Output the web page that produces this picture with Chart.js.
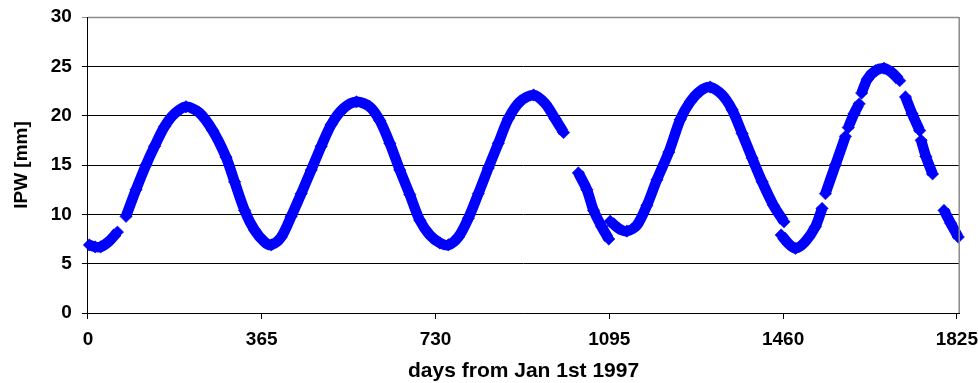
<!DOCTYPE html>
<html><head><meta charset="utf-8">
<script src="https://cdn.jsdelivr.net/npm/chart.js@4/dist/chart.umd.min.js"></script>
<style>html,body{margin:0;padding:0;background:#fff;overflow:hidden}#wrap{width:978px;height:383px}</style>
</head><body><div id="wrap"><canvas id="c" width="978" height="383"></canvas></div>
<script>
// days from Jan 1st 1997 (null IPW = data gap)
const days = [3,15,27,45,62,71,
  80,101,122,140,161,182,206,234,262,290,308,329,350,371,385,406,427,448,469,490,511,536,564,592,613,634,655,676,697,718,739,757,778,799,820,841,862,883,907,936,960,981,999,1015,
  1030,1048,1062,1079,1094,1095,
  1097,1114,1132,1153,1174,1195,1220,1244,1265,1286,1307,1332,1353,1374,1395,1416,1440,1462,1463,
  1456,1472,1486,1506,1528,1542,1546,
  1549,1570,1591,1593,
  1597,1609,1620,1622,
  1625,1637,1654,1672,1689,1705,1711,
  1717,1731,1747,1748,
  1750,1760,1774,1786,
  1798,1812,1828];
const ipw = [6.9,6.7,6.7,7.3,8.2,null,
  9.8,12.5,15.0,16.9,18.9,20.2,20.9,20.3,18.5,15.8,13.3,10.4,8.4,7.2,6.9,7.7,9.8,12.1,14.5,16.9,19.1,20.7,21.4,20.9,19.5,17.2,14.5,12.0,9.4,7.9,7.1,6.9,7.7,9.6,12.1,14.7,17.2,19.7,21.4,22.1,21.25,19.7,18.3,null,
  14.2,12.5,10.4,8.75,7.5,null,
  9.3,8.6,8.3,8.9,10.9,13.5,16.3,19.6,21.4,22.5,22.9,22.1,20.6,18.2,15.7,13.3,10.9,9.25,null,
  7.9,7.0,6.55,7.2,8.75,10.6,null,
  12.1,15.0,17.9,null,
  18.8,20.2,21.2,null,
  22.3,23.7,24.55,24.8,24.35,23.55,null,
  21.9,20.2,18.5,null,
  17.5,15.85,14.1,null,
  10.4,9.1,7.7];
const xTicks = [0,365,730,1095,1460,1825];
const yTicks = [0,5,10,15,20,25,30];
const xTitle = 'days from Jan 1st 1997';
const yTitle = 'IPW [mm]';

const pts = days.map((d,i)=>({x:d, y: ipw[i]===null ? NaN : ipw[i]}));
const FONT = "'Liberation Sans', Arial, sans-serif";

const border = {
  id:'border',
  afterDraw(chart){
    const a = chart.chartArea, c = chart.ctx;
    c.save();
    c.strokeStyle = '#8c8c8c'; c.lineWidth = 1.5;
    c.beginPath();
    c.moveTo(a.left, a.top+0.5); c.lineTo(a.right, a.top+0.5);
    c.moveTo(a.right, a.top); c.lineTo(a.right, a.bottom);
    c.stroke();
    c.restore();
  }
};

new Chart(document.getElementById('c'), {
  type:'scatter',
  data:{datasets:[{
    data: pts,
    showLine:true,
    spanGaps:false,
    borderColor:'#0000ff',
    borderWidth:10.5,
    tension:0.3,
    pointStyle:'rectRot',
    pointRadius:6.2,
    pointBackgroundColor:'#0000ff',
    pointBorderColor:'#0000e0',
    pointBorderWidth:0.5,
    clip:8
  }]},
  plugins:[border],
  options:{
    responsive:false, animation:false,
    devicePixelRatio:1,
    layout:{padding:{left:10,right:1,top:1,bottom:0}},
    plugins:{legend:{display:false}, tooltip:{enabled:false}},
    scales:{
      x:{type:'linear', min:0, max:1830,
        afterBuildTicks(ax){ ax.ticks = xTicks.map(v=>({value:v})); },
        ticks:{autoSkip:false, maxRotation:0, color:'#000', padding:0,
          callback:(v)=>String(v),
          font:{family:FONT, size:19, weight:'bold', lineHeight:'41px'}},
        grid:{drawOnChartArea:false, drawTicks:true, tickLength:6, color:'#000'},
        border:{display:true, color:'#000', width:1},
        title:{display:true, text:xTitle, color:'#000', padding:{top:0,bottom:0},
          font:{family:FONT, size:21, weight:'bold', lineHeight:'23px'}}
      },
      y:{type:'linear', min:0, max:30,
        afterBuildTicks(ax){ ax.ticks = yTicks.map(v=>({value:v})); },
        ticks:{color:'#000', padding:10, callback:(v)=>String(v),
          font:{family:FONT, size:19, weight:'bold', lineHeight:'14px'}},
        grid:{color:(ctx)=> ctx.tick && ctx.tick.value===30 ? '#8c8c8c' : '#000', lineWidth:1, tickLength:6, drawTicks:true},
        border:{display:true, color:'#000', width:1},
        title:{display:true, text:yTitle, color:'#000', padding:{top:0,bottom:8},
          font:{family:FONT, size:19, weight:'bold'}}
      }
    }
  }
});
</script></body></html>
